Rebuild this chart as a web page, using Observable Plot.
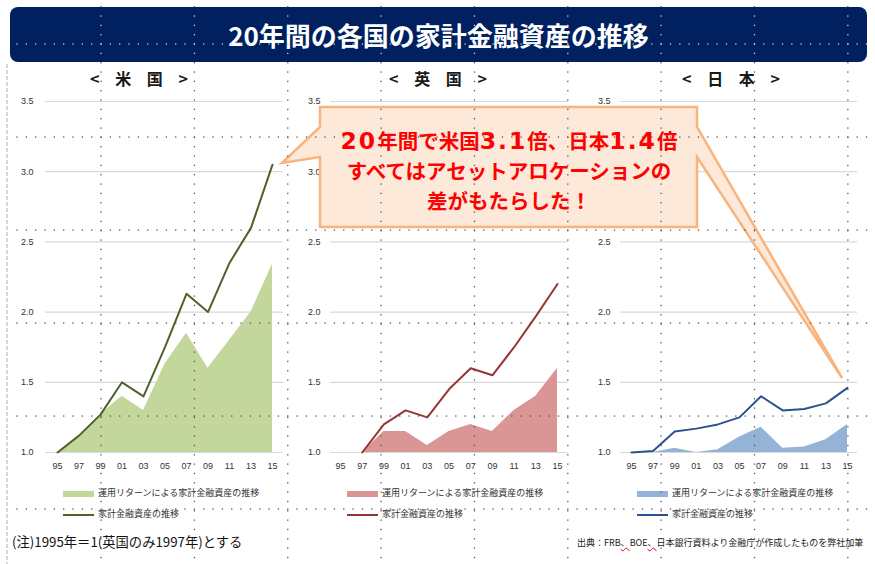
<!DOCTYPE html>
<html><head><meta charset="utf-8">
<script src="https://cdn.jsdelivr.net/npm/d3@7"></script>
<script src="https://cdn.jsdelivr.net/npm/@observablehq/plot@0.6"></script>
<style>
html,body{margin:0;padding:0;background:#fff;}
#root{position:relative;width:875px;height:564px;overflow:hidden;font-family:"Noto Sans CJK JP","Noto Sans",sans-serif;color:#222;}
.abs{position:absolute;}
#banner{left:10px;top:7px;width:857px;height:55px;background:#002060;border-radius:8px;color:#fff;font-weight:bold;font-size:26px;line-height:55px;text-align:center;}
.hdr{width:200px;text-align:center;font-weight:bold;font-size:16px;line-height:20px;top:68px;letter-spacing:6px;color:#1a1a1a;}
.leg{font-size:9px;line-height:12px;color:#333;white-space:nowrap;}
.sw{display:inline-block;width:31px;vertical-align:middle;margin-right:4px;}
svg.overlay{position:absolute;left:0;top:0;pointer-events:none;}
</style></head>
<body><div id="root">
<div id="banner" class="abs"></div>
</div>
<script>
// ---- data ----
const years = [1995,1997,1999,2001,2003,2005,2007,2009,2011,2013,2015];
const yTicks = [1.0,1.5,2.0,2.5,3.0,3.5];
const countryNames = ["米国","英国","日本"];
const usTotal  = [1.00,1.12,1.27,1.50,1.40,1.75,2.13,2.00,2.35,2.60,3.05];
const usReturn = [1.00,1.12,1.27,1.40,1.30,1.63,1.85,1.60,1.80,2.00,2.34];
const ukTotal  = [null,1.00,1.20,1.30,1.25,1.45,1.60,1.55,1.75,1.97,2.20];
const ukReturn = [null,1.00,1.15,1.15,1.05,1.15,1.20,1.15,1.30,1.40,1.60];
const jpTotal  = [1.00,1.01,1.15,1.17,1.20,1.25,1.40,1.30,1.31,1.35,1.46];
const jpReturn = [1.00,1.00,1.03,1.00,1.02,1.11,1.18,1.03,1.04,1.09,1.20];
const legendLabels = ["運用リターンによる家計金融資産の推移","家計金融資産の推移"];
const titleText = "20年間の各国の家計金融資産の推移";
const calloutLines = ["20年間で米国3.1倍、日本1.4倍","すべてはアセットアロケーションの","差がもたらした！"];
const noteText = "(注)1995年＝1(英国のみ1997年)とする";
const sourceParts = ["出典：FRB","、","BOE","、","日本銀行資料より金融庁が作成したものを弊社加筆"];

const series = [
  {total: usTotal, ret: usReturn, area: "#c3d69b", line: "#4f6228"},
  {total: ukTotal, ret: ukReturn, area: "#d99694", line: "#943634"},
  {total: jpTotal, ret: jpReturn, area: "#95b3d7", line: "#2c538f"}
];
// ---- layout ----
const layout = [
  {left: 0,   width: 300, ml: 45, mr: 17, il: 12, ir: 11, tp: 12, hdr: 142, sw: 63},
  {left: 290, width: 290, ml: 40, mr: 12, il: 10, ir: 11, tp: 10, hdr: 441, sw: 347},
  {left: 580, width: 295, ml: 40, mr: 18, il: 11, ir: 10, tp: 10, hdr: 734, sw: 637}
];

const root = document.getElementById("root");
document.getElementById("banner").textContent = titleText;

series.forEach((s, k) => {
  const L = layout[k];
  const data = years.map((year, i) => ({year, total: s.total[i], ret: s.ret[i]})).filter(d => d.total != null);
  const chart = Plot.plot({
    width: L.width, height: 390,
    marginTop: 11, marginBottom: 28, marginLeft: L.ml, marginRight: L.mr,
    style: {background: "transparent", fontFamily: "'Liberation Sans', sans-serif", fontSize: "9px", color: "#333", overflow: "visible"},
    x: {type: "linear", domain: [1995, 2015], insetLeft: L.il, insetRight: L.ir, ticks: years,
        tickFormat: d => String(d % 100).padStart(2, "0"), tickSize: 0, tickPadding: 10, label: null},
    y: {domain: [1, 3.5], ticks: yTicks, tickFormat: d => d.toFixed(1), tickSize: 0, tickPadding: L.tp, label: null},
    marks: [
      Plot.ruleY(yTicks, {stroke: "#d9d9d9", strokeWidth: 1.2}),
      Plot.areaY(data, {x: "year", y1: () => 1, y2: "ret", fill: s.area}),
      Plot.line(data, {x: "year", y: "total", stroke: s.line, strokeWidth: 2})
    ]
  });
  chart.style.position = "absolute";
  chart.style.left = L.left + "px";
  chart.style.top = "90px";
  root.appendChild(chart);

  const h = document.createElement("div");
  h.className = "abs hdr";
  h.style.left = (L.hdr - 100) + "px";
  h.textContent = "< " + countryNames[k].split("").join(" ") + " >";
  root.appendChild(h);

  legendLabels.forEach((lab, j) => {
    const d = document.createElement("div");
    d.className = "abs leg";
    d.style.left = L.sw + "px";
    d.style.top = (j === 0 ? 487 : 508) + "px";
    const sw = document.createElement("span");
    sw.className = "sw";
    if (j === 0) { sw.style.height = "6px"; sw.style.background = s.area; }
    else { sw.style.height = "2px"; sw.style.background = s.line; }
    d.appendChild(sw);
    d.appendChild(document.createTextNode(lab));
    root.appendChild(d);
  });
});

// footnotes
const note = document.createElement("div");
note.className = "abs";
note.style.cssText = "left:12px;top:533px;font-size:13.3px;line-height:18px;color:#111;white-space:nowrap;";
note.textContent = noteText;
root.appendChild(note);

const src = document.createElement("div");
src.className = "abs";
src.style.cssText = "left:577px;top:537px;font-size:9px;line-height:12px;color:#222;white-space:nowrap;";
sourceParts.forEach(p => {
  const sp = document.createElement("span");
  sp.textContent = p;
  if (p === "、") sp.style.cssText = "text-decoration:underline wavy #e00;text-decoration-thickness:1px;";
  src.appendChild(sp);
});
root.appendChild(src);

// callout annotation
const svg = d3.select(root).append("svg").attr("class", "overlay").attr("width", 875).attr("height", 564);
svg.append("path")
  .attr("d", "M320,107 L697,107 L697,127 L842,378 L697,157 L697,227 L320,227 L320,157 L282,163 L320,127 Z")
  .attr("fill", "#fde9d9").attr("stroke", "#f8b47c").attr("stroke-width", 2.5).attr("stroke-linejoin", "miter");
const tx = svg.append("g").attr("font-family", "'Noto Sans CJK JP', sans-serif").attr("font-weight", "bold")
  .attr("font-size", 20.5).attr("fill", "#ff0000").attr("text-anchor", "middle");
calloutLines.forEach((line, i) => {
  const t = tx.append("text").attr("x", 509).attr("y", 149 + i * 30);
  line.split(/([0-9.]+)/).forEach(part => {
    if (!part) return;
    const ts = t.append("tspan").text(part);
    if (/^[0-9.]+$/.test(part)) ts.attr("font-family", "'DejaVu Sans', sans-serif").attr("font-size", 23.5).attr("letter-spacing", 2);
  });
});

// slide guide grid (decoration)
const grid = d3.select(root).append("svg").attr("class", "overlay").attr("width", 875).attr("height", 564);
grid.append("line").attr("x1", 7).attr("x2", 7).attr("y1", 64).attr("y2", 564)
  .attr("stroke", "#c8c8c8").attr("stroke-width", 1.5).attr("stroke-dasharray", "4 2");
const step = 9.335;
const inBanner = (x, y) => x >= 10 && x <= 867 && y >= 7 && y <= 62;
const dots = [];
d3.range(9).forEach(k => {
  const x = 101 + 93.35 * k;
  for (let y = 44 - step * 4; y < 564; y += step) dots.push([x, y]);
});
d3.range(6).forEach(k => {
  const y = 44 + 93 * k;
  for (let x = 101 - step * 10; x < 875; x += step) if (x > 8) dots.push([x, y]);
});
grid.selectAll("rect.d").data(dots).join("rect")
  .attr("x", d => d[0] - 0.6).attr("y", d => d[1] - 0.6).attr("width", 1.3).attr("height", 1.3)
  .attr("fill", d => inBanner(d[0], d[1]) ? "#c9cfe0" : "#555");
</script>
</body></html>
